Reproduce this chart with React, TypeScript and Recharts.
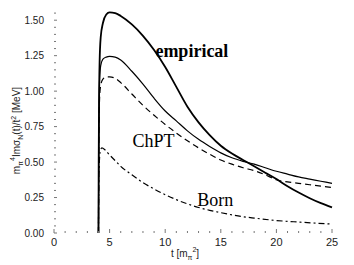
import React from 'react';
import { LineChart, Line, XAxis, YAxis, ReferenceDot } from 'recharts';

// sample points of t [m_pi^2]
const curveT = [4, 4.02, 4.05, 4.1, 4.2, 4.4, 4.7, 5, 5.5, 6, 7, 8, 9, 10, 11, 12, 13, 14, 15, 16, 17, 18, 19, 20, 21, 22, 23, 24, 25];
const empiricalV = [0, 0.5, 0.9, 1.2, 1.38, 1.48, 1.54, 1.555, 1.55, 1.53, 1.47, 1.39, 1.29, 1.17, 1.03, 0.89, 0.78, 0.69, 0.615, 0.56, 0.515, 0.47, 0.425, 0.38, 0.33, 0.285, 0.245, 0.21, 0.18];
const chptV = [0, 0.5, 0.85, 1.08, 1.18, 1.225, 1.24, 1.245, 1.24, 1.22, 1.14, 1.05, 0.95, 0.86, 0.79, 0.72, 0.66, 0.61, 0.565, 0.53, 0.505, 0.485, 0.46, 0.435, 0.415, 0.395, 0.38, 0.365, 0.35];
const chptDashedV = [0, 0.45, 0.75, 0.95, 1.04, 1.085, 1.1, 1.1, 1.09, 1.06, 0.98, 0.9, 0.83, 0.765, 0.705, 0.65, 0.6, 0.555, 0.515, 0.485, 0.46, 0.44, 0.41, 0.375, 0.36, 0.35, 0.34, 0.33, 0.32];

const bornT = [4, 4.03, 4.08, 4.15, 4.3, 4.6, 5, 5.5, 6, 7, 8, 9, 10, 11, 12, 13, 14, 15, 16, 17, 18, 20, 22, 25];
const bornV = [0, 0.35, 0.5, 0.57, 0.6, 0.585, 0.55, 0.51, 0.47, 0.41, 0.355, 0.31, 0.27, 0.235, 0.205, 0.18, 0.16, 0.143, 0.128, 0.115, 0.105, 0.088, 0.077, 0.063];

const xTicks = [0, 1, 2, 3, 4, 5, 6, 7, 8, 9, 10, 11, 12, 13, 14, 15, 16, 17, 18, 19, 20, 21, 22, 23, 24, 25];
const yTicks = [0, 0.05, 0.1, 0.15, 0.2, 0.25, 0.3, 0.35, 0.4, 0.45, 0.5, 0.55, 0.6, 0.65, 0.7, 0.75, 0.8, 0.85, 0.9, 0.95, 1.0, 1.05, 1.1, 1.15, 1.2, 1.25, 1.3, 1.35, 1.4, 1.45, 1.5, 1.55];

const curveNames = ['empirical', 'ChPT', 'Born'];
const curveNameT = [12.4, 8.95, 14.5];
const curveNameV = [1.28, 0.65, 0.23];

const toRows = (ts: number[], vs: number[]) => ts.map((t, i) => ({ t, v: vs[i] }));
const empiricalData = toRows(curveT, empiricalV);
const chptData = toRows(curveT, chptV);
const chptDashedData = toRows(curveT, chptDashedV);
const bornData = toRows(bornT, bornV);

const SANS = 'Liberation Sans, Arial, sans-serif';
const SERIF = 'Liberation Serif, Times New Roman, serif';
const TICK = '#777';

const isMajorX = (v: number) => v % 5 === 0;
const isMajorY = (v: number) => Math.round(v * 100) % 25 === 0;

const BottomTick = (p: any) => {
  const v = p.payload.value;
  const major = isMajorX(v);
  return (
    <g>
      <line x1={p.x} x2={p.x} y1={p.y} y2={p.y - (major ? 4 : 2)} stroke={TICK} />
      {major && (
        <text x={p.x} y={p.y + 13} textAnchor="middle" fontSize={11} fontFamily={SANS} fill="#222">{v}</text>
      )}
    </g>
  );
};
const TopTick = (p: any) => {
  const major = isMajorX(p.payload.value);
  return <line x1={p.x} x2={p.x} y1={p.y} y2={p.y + (major ? 4 : 2)} stroke={TICK} />;
};
const LeftTick = (p: any) => {
  const v = p.payload.value;
  const major = isMajorY(v);
  return (
    <g>
      <line x1={p.x} x2={p.x + (major ? 3 : 2)} y1={p.y} y2={p.y} stroke={TICK} />
      {major && (
        <text x={p.x - 10} y={p.y + 3.5} textAnchor="end" fontSize={10} fontFamily={SANS} fill="#222">{v.toFixed(2)}</text>
      )}
    </g>
  );
};
const RightTick = (p: any) => {
  const major = isMajorY(p.payload.value);
  return <line x1={p.x} x2={p.x - (major ? 3 : 2)} y1={p.y} y2={p.y} stroke={TICK} />;
};

const YTitle = (props: any) => {
  const vb = props.viewBox;
  const cx = vb.x + 20;
  const cy = vb.y + vb.height / 2 + 11;
  return (
    <text transform={`translate(${cx},${cy}) rotate(-90)`} textAnchor="middle" fontSize={10} fontFamily={SANS} fill="#222">
      m<tspan fontSize={7} dy={3}>π</tspan>
      <tspan fontSize={7} dy={-8}>4</tspan>
      <tspan dy={5}>Imσ</tspan>
      <tspan fontSize={7} dy={3}>N</tspan>
      <tspan dy={-3}>(t)/t</tspan>
      <tspan fontSize={7} dy={-4}>2</tspan>
      <tspan dy={4}> [MeV]</tspan>
    </text>
  );
};

const XTitle = (props: any) => {
  const vb = props.viewBox;
  const cx = vb.x + vb.width / 2 - 8;
  const cy = vb.y + 24;
  return (
    <text x={cx} y={cy} textAnchor="middle" fontSize={10} fontFamily={SANS} fill="#222">
      t [m<tspan fontSize={7} dy={3}>π</tspan>
      <tspan fontSize={7} dy={-8}>2</tspan>
      <tspan dy={5}>]</tspan>
    </text>
  );
};

const NameLabel = (name: string) => (props: any) => {
  const vb = props.viewBox;
  const bold = name === 'empirical';
  return (
    <text x={vb.x + (vb.width || 0) / 2} y={vb.y + (vb.height || 0) / 2 + 6} textAnchor="middle" fontSize={18} fontWeight={bold ? 'bold' : 'normal'} fontFamily={SERIF} fill="#000">
      {name}
    </text>
  );
};

export default function App() {
  return (
    <div style={{ position: 'absolute', left: 0, top: 0, background: '#fff' }}>
      <LineChart width={354} height={265} margin={{ top: 6, right: 22, bottom: 0, left: 0 }}>
        <XAxis
          dataKey="t"
          type="number"
          domain={[0, 25]}
          ticks={xTicks}
          interval={0}
          tickSize={0}
          tickMargin={0}
          axisLine={false}
          tickLine={false}
          tick={<BottomTick />}
          height={32}
          allowDuplicatedCategory={false}
          label={{ content: <XTitle /> }}
        />
        <XAxis
          xAxisId="top"
          orientation="top"
          dataKey="t"
          type="number"
          domain={[0, 25]}
          ticks={xTicks}
          interval={0}
          tickSize={0}
          tickMargin={0}
          height={0}
          axisLine={{ stroke: '#888' }}
          tickLine={false}
          tick={<TopTick />}
        />
        <YAxis
          type="number"
          domain={[0, 1.6]}
          ticks={yTicks}
          interval={0}
          tickSize={0}
          tickMargin={0}
          width={54}
          axisLine={false}
          tickLine={false}
          tick={<LeftTick />}
          label={{ content: <YTitle /> }}
        />
        <YAxis
          yAxisId="right"
          orientation="right"
          type="number"
          domain={[0, 1.6]}
          ticks={yTicks}
          interval={0}
          tickSize={0}
          tickMargin={0}
          width={0}
          axisLine={false}
          tickLine={false}
          tick={<RightTick />}
        />
        <Line data={empiricalData} dataKey="v" type="monotone" stroke="#000" strokeWidth={1.8} dot={false} isAnimationActive={false} />
        <Line data={chptData} dataKey="v" type="monotone" stroke="#000" strokeWidth={1.2} dot={false} isAnimationActive={false} />
        <Line data={chptDashedData} dataKey="v" type="monotone" stroke="#000" strokeWidth={1.2} strokeDasharray="6 4" dot={false} isAnimationActive={false} />
        <Line data={bornData} dataKey="v" type="monotone" stroke="#000" strokeWidth={1.2} strokeDasharray="6 3 2 3" dot={false} isAnimationActive={false} />
        {curveNames.map((n, i) => (
          <ReferenceDot key={n} x={curveNameT[i]} y={curveNameV[i]} r={0} fill="none" stroke="none" label={{ content: NameLabel(n) }} />
        ))}
      </LineChart>
    </div>
  );
}
